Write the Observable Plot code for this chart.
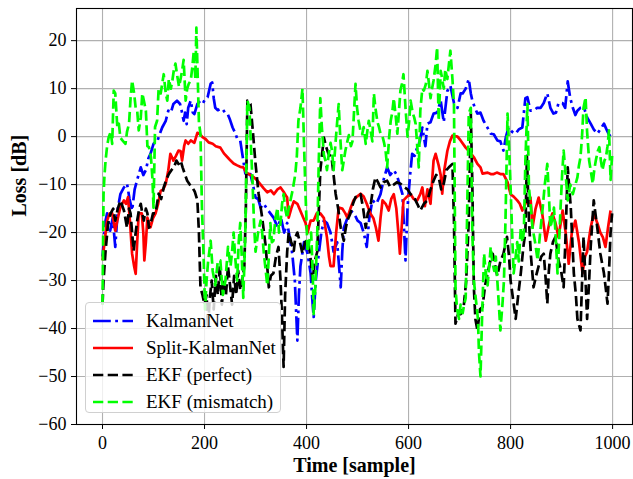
<!DOCTYPE html>
<html><head><meta charset="utf-8">
<script src="https://cdn.jsdelivr.net/npm/d3@7"></script>
<script src="https://cdn.jsdelivr.net/npm/@observablehq/plot@0.6"></script>
<style>
body{margin:0;background:#fff;}
#wrap{position:relative;width:633px;height:479px;font-family:"Liberation Serif","Times New Roman",serif;}
#legend{position:absolute;left:85px;top:302px;width:196px;height:111px;box-sizing:border-box;border:1px solid #d0d0d0;border-radius:4px;background:rgba(255,255,255,0.8);padding:4px 0 0 7px;}
.row{display:flex;align-items:center;height:27px;font-size:19px;color:#000;white-space:nowrap;}
.row svg{margin-right:13px;flex:none;}
</style></head><body><div id="wrap"><div id="legend"></div></div>
<script>
// [sample, loss dB]
const kalmanNet = [[0,-25],[5,-18],[9,-16],[15,-19.6],[20,-17],[25,-23],[30,-15],[35,-12],[42,-10.6],[48,-9.8],[53,-13],[58,-15.4],[63,-11],[68,-9],[75,-6.4],[80,-8],[85,-7],[90,-4.5],[94,-3.6],[100,-1.5],[108,-0.8],[112,0.5],[117,1.9],[124,3.3],[129,5.4],[134,5],[139,6.8],[146,7.5],[152,6.8],[156,5],[159,3.3],[162,5],[165,2.6],[168,6],[173,7.5],[177,5],[180,4.7],[186,6.8],[192,7.5],[197,7],[202,8],[206,8.2],[212,11],[215,11.3],[218,8],[221,6],[226,5.5],[231,5.8],[235,5.8],[240,5],[245,4.8],[250,3.5],[255,1.9],[260,0.8],[264,-0.4],[270,-0.8],[274,-3.6],[280,-7.7],[285,-7.8],[290,-7.8],[296,-10.6],[300,-12.7],[305,-13],[310,-14.8],[316,-14],[322,-15],[329,-16],[336,-17],[343,-18.9],[350,-17],[356,-20],[362,-18],[367,-21],[372,-24.4],[377,-30],[382,-42.5],[385,-33],[388,-27],[395,-22],[402,-24.4],[408,-28.5],[412,-35],[414,-37.6],[418,-30],[424,-24.4],[429,-20],[434,-17.5],[440,-18],[447,-20],[453,-24],[460,-22],[467,-31.4],[470,-24],[473,-19],[480,-17],[486,-15.4],[493,-16],[500,-17.5],[506,-18],[512,-20],[518,-23],[523,-17],[529,-13.3],[537,-14],[545,-12],[551,-9],[558,-6.4],[564,-8],[571,-7],[577,-8],[582,-9.8],[588,-12],[594,-25.8],[598,-14.7],[603,-8],[607,-3.6],[612,-4],[617,-2.2],[622,-1],[627,1.9],[633,-2],[637,2.7],[643,3],[649,4.8],[656,5],[663,7.5],[669,3],[676,9.5],[682,10.6],[689,7],[696,6],[702,9],[706,9],[712,10],[718,12],[722,9],[725,7.5],[730,6],[735,4.8],[741,5],[747,3.3],[754,2],[761,0.6],[767,0.5],[774,-0.8],[780,-1],[786,-2.9],[791,0],[796,1.9],[803,1],[810,0.6],[816,1.5],[823,1.9],[829,8],[833,8.2],[839,5.4],[845,5.4],[852,6],[859,6],[865,7],[872,9],[878,6],[884,4.8],[889,5],[894,7],[902,7],[907,6],[912,11.5],[917,8],[922,6],[927,4.5],[931,5.4],[937,6],[944,6],[950,4],[957,2.7],[963,1.5],[970,0.6],[976,1.5],[983,2.7],[988,1.5],[992,0.6],[996,0],[999,0.5]];

const splitKalmanNet = [[0,-25.8],[4,-22],[9,-17.5],[14,-16],[19,-16],[25,-19.6],[30,-17],[35,-14.7],[42,-13.3],[46,-14],[50,-12.6],[54,-18],[58,-24.4],[62,-27],[65,-28.6],[68,-22],[71,-16],[77,-16],[80,-20],[82,-25.8],[85,-22],[88,-16.9],[94,-18.9],[99,-17],[104,-16],[109,-14],[114,-11.3],[119,-11],[124,-9.8],[129,-7],[133,-3.6],[139,-5],[144,-4],[149,-2.9],[153,-3],[156,-5],[160,-2],[163,-0.8],[168,-1.5],[173,-0.8],[180,-1.3],[186,0.8],[191,0.5],[196,-0.1],[202,-0.5],[208,-1.2],[216,-1.5],[222,-2],[231,-2.3],[238,-3.5],[245,-4.3],[251,-5],[257,-5.6],[264,-6],[270,-6.3],[276,-6.4],[282,-7.5],[290,-8],[297,-8.5],[304,-9.2],[310,-10],[316,-10.8],[323,-11.6],[330,-11.2],[336,-12],[343,-11],[349,-10.6],[355,-11.5],[359,-12.2],[362,-12.7],[365,-16.9],[370,-15],[375,-13.5],[382,-14],[388,-15.5],[394,-17],[398,-18],[402,-20],[408,-17.5],[414,-17.5],[420,-16],[427,-16],[434,-17],[440,-21],[444,-25],[447,-27],[453,-27],[458,-20],[463,-14.8],[470,-15],[476,-16],[480,-16.9],[486,-15],[492,-13.3],[499,-12.5],[506,-11.9],[512,-12.5],[518,-14],[525,-16],[531,-17],[536,-19],[541,-21.7],[545,-17],[549,-13.3],[555,-14],[561,-15.4],[566,-13],[571,-12],[576,-15],[580,-20],[583,-24.4],[587,-18],[590,-13.3],[597,-12.5],[604,-12],[610,-13],[617,-13.3],[623,-12],[627,-10.6],[632,-14.5],[637,-11],[643,-14],[649,-5],[653,-3.6],[659,-6],[663,-8],[666,-11.9],[670,-7],[676,-3],[681,-1],[686,0.2],[696,0],[702,-0.8],[712,-2.3],[720,-3.2],[728,-4.3],[735,-5.7],[741,-6.4],[745,-7.7],[750,-7.6],[755,-7.5],[761,-7.8],[767,-7.8],[773,-7.5],[780,-7.8],[786,-7.8],[794,-9.5],[800,-12],[806,-12.5],[813,-13.3],[818,-14],[823,-15.4],[829,-14],[835,-13],[839,-12.7],[843,-18.9],[849,-15],[855,-12.7],[862,-16],[869,-21.7],[876,-18],[882,-16],[888,-18],[894,-21],[902,-15.4],[908,-20],[914,-26.5],[920,-20],[927,-17.5],[934,-22],[941,-28.5],[946,-25],[950,-24],[957,-19],[963,-16],[970,-18],[976,-20],[981,-21],[986,-23],[991,-19],[996,-15.4]];

const ekfPerfect = [[0,-35],[2,-30],[6,-23.8],[11,-18],[16,-16],[21,-15],[25,-17.5],[30,-15],[35,-13.3],[42,-15.4],[48,-19],[52,-15],[55,-16],[58,-20],[61,-23.8],[65,-20],[68,-17.5],[72,-15],[75,-14],[78,-16],[81,-17.5],[85,-15],[88,-16],[91,-19],[94,-18.3],[99,-16],[104,-16],[110,-11.9],[115,-13],[120,-10.6],[125,-9],[130,-7.8],[135,-7],[140,-6.4],[145,-5],[149,-5.7],[153,-5],[157,-6.4],[162,-8],[166,-9.2],[171,-10],[176,-10.6],[181,-11.5],[186,-13.3],[189,-20],[192,-31.4],[196,-33],[200,-35],[204,-33],[207,-40],[210,-34],[214,-30],[218,-36],[222,-29],[226,-33],[230,-27],[234,-35],[238,-30],[242,-33],[246,-27],[250,-31],[254,-35],[258,-29],[262,-33],[266,-28],[270,-32],[274,-30],[278,-27],[281,-15],[284,7.5],[290,6.8],[294,2],[300,-5.7],[306,-11.9],[313,-16.9],[320,-23],[326,-31.4],[330,-29],[335,-28.5],[340,-25],[345,-23],[349,-30],[352,-38],[355,-48],[358,-33],[362,-24],[365,-20],[370,-22],[375,-23.8],[378,-21],[382,-20],[387,-22],[392,-24.4],[397,-22],[402,-21.6],[407,-24.4],[412,-30],[416,-26],[421,-24],[427,-7],[434,-0.2],[438,-2],[443,-3.6],[449,-4.3],[453,-8],[457,-11.9],[462,-15],[467,-19],[473,-21.7],[477,-19],[480,-17.5],[486,-16],[491,-14],[496,-12.6],[501,-12.5],[506,-12],[511,-15],[516,-19],[520,-16],[525,-14.8],[530,-11],[535,-8.5],[540,-9.5],[545,-10.6],[551,-9.5],[558,-9.2],[564,-10.5],[571,-10],[577,-9.5],[584,-9.8],[591,-10.5],[598,-11],[604,-12],[610,-12.5],[617,-14],[623,-15.4],[630,-14],[637,-13.3],[643,-11],[649,-9.2],[654,-8],[659,-8.5],[664,-11],[669,-9.8],[674,-7],[679,-6.4],[686,-5.7],[689,-17.5],[692,-39],[697,-37],[702,-37],[708,-35.5],[713,-30],[718,-17.5],[722,4.8],[725,-10],[728,-31.4],[731,-38],[735,-40.4],[740,-36],[745,-35.5],[750,-31],[755,-28.5],[760,-26],[765,-24.4],[770,-27],[774,-29],[780,-26],[786,-24.4],[793,-20.9],[797,-25],[800,-30],[805,-34],[810,-38],[815,-33],[820,-28.5],[825,-23],[829,-20],[832,-4],[836,-17.5],[840,-25],[845,-31.4],[850,-29],[855,-27],[860,-25],[865,-24.4],[869,-30],[872,-34.8],[875,-28],[878,-24.4],[883,-22],[888,-20.9],[894,-25.8],[899,-28],[904,-31.4],[908,-20],[912,-6.4],[918,-14.8],[924,-28.5],[928,-33],[931,-38],[937,-40.4],[943,-20.9],[947,-30],[950,-38],[954,-30],[957,-23],[963,-13.3],[970,-19],[976,-24.4],[983,-28.5],[987,-32],[990,-34.8],[993,-28],[996,-20],[999,-16]];

const ekfMismatch = [[0,-35],[2,-12],[4,-7.8],[6,-5],[9,-2],[12,-0.2],[16,1],[19,-1.5],[22,9.6],[25,9],[29,2],[32,2.7],[35,-0.2],[39,-0.8],[45,-1.5],[48,1],[52,2.7],[55,8],[58,11.7],[62,9],[65,6],[68,5.4],[71,1.3],[75,4],[78,9],[82,7],[85,5.4],[88,-2],[91,-2.2],[95,-4.3],[98,-9],[100,-14.8],[103,2],[107,3.3],[110,10],[114,9],[117,11],[120,13],[124,9],[127,7.5],[130,12],[134,10],[137,11.7],[140,14],[143,15.2],[146,13],[150,10.4],[153,12],[156,13.7],[159,16],[163,7.5],[166,10],[169,11],[173,11.7],[176,14.4],[179,17.9],[182,12],[184,22.7],[186,15],[189,3],[192,0.6],[195,-15],[198,-24.4],[201,-36],[204,-30],[207,-26],[212,-21.7],[216,-28],[221,-31],[226,-26],[231,-25.8],[236,-33],[241,-30],[246,-23],[251,-27],[254,-24],[257,-20],[260,-25],[264,-30],[267,-22],[270,-18],[273,-25],[276,-33.6],[280,-20],[284,7.5],[288,6],[291,-2],[294,-9.2],[297,-18],[300,-24],[305,-20],[310,-17.5],[313,-20],[316,-24],[320,-28],[323,-31],[326,-25],[329,-18],[332,-22],[335,-21.7],[339,-17],[343,-14.8],[346,-20],[349,-18],[352,-14],[355,-12],[358,-15],[362,-17],[365,-15],[369,-13],[373,-11],[378,-7.8],[381,-4],[384,3.3],[388,6],[392,10],[395,-1.5],[398,-12],[402,-24],[405,-22],[409,-20],[412,-28],[414,-37],[417,-32],[421,-20],[424,-5],[427,8],[430,2],[434,-3.8],[437,-5],[440,-7],[443,-4],[447,-1.3],[450,-3],[453,-7],[457,-1],[460,3],[463,6.8],[466,0],[470,-7],[473,-5],[476,-3],[480,-1],[483,0.3],[487,-2],[490,-1],[493,5],[496,11],[499,6],[502,3.3],[506,1],[509,0.5],[512,2],[516,-1.5],[519,1],[522,3.3],[526,1],[529,-1],[532,9],[535,6],[539,3],[542,2],[545,0.6],[549,0],[552,-1.3],[555,-3],[558,-6.4],[562,0],[565,3.3],[568,5],[571,8],[575,4],[578,0.6],[581,5],[584,9.6],[587,11],[590,13],[594,6],[598,0],[601,3],[604,7.5],[608,5],[611,4],[614,2.6],[617,-2],[620,-6.4],[623,5.4],[627,10],[630,9.6],[634,11],[637,13.7],[640,11],[643,8],[646,10],[649,11.7],[653,15],[656,18.6],[659,3.3],[663,13.7],[666,12],[669,10],[672,14],[676,12],[679,15],[682,17.9],[686,12],[689,6.8],[692,-31.4],[695,-36],[699,-38],[702,-35],[706,-36.8],[709,-35],[712,-33.6],[715,-15],[718,4.8],[722,6],[725,-20],[728,-30],[732,-34],[736,-38],[738,-45],[741,-50],[744,-38],[748,-24.4],[751,-28],[755,-31],[758,-27],[761,-23],[764,-26],[768,-28],[771,-25],[774,-30],[777,-35],[780,-40.4],[784,-35],[787,-30],[790,-17.5],[794,4.8],[797,-2],[800,-10.6],[803,-20],[806,-28.5],[810,-25],[813,-22],[816,-26],[820,-19],[823,-22],[826,-20],[829,-5],[833,6.8],[836,-10.6],[840,-15],[843,-19],[848,-22],[853,-25.8],[858,-20],[863,-14.8],[867,-10],[872,-5.7],[875,-12],[878,-19],[882,-17],[885,-14.8],[888,-20],[892,-28.5],[895,-22],[898,-14.8],[901,-8],[904,-2.9],[908,-8],[912,-13.3],[917,-10],[922,-12],[927,-10],[931,-8.5],[934,-6],[937,-4.3],[940,0],[943,6],[947,8.2],[950,1],[954,-5],[957,-7],[961,-9.8],[964,-7],[967,-5],[971,-3],[974,-2.2],[977,-5],[980,-7],[984,-5],[987,-4.3],[990,-2],[993,1.3],[996,-9],[999,-4]];

const xTicks = [0, 200, 400, 600, 800, 1000];
const yTicks = [-60, -50, -40, -30, -20, -10, 0, 10, 20];
const seriesNames = ["KalmanNet", "Split-KalmanNet", "EKF (perfect)", "EKF (mismatch)"];
const seriesColors = ["#0000ff", "#ff0000", "#000000", "#00ff00"];
const seriesDash = ["17.8,4.4,2.8,4.4", null, "10.3,4.4", "10.3,4.4"];
const seriesData = [kalmanNet, splitKalmanNet, ekfPerfect, ekfMismatch];

const fmt = d => d < 0 ? "\u2212" + Math.abs(d) : String(d);
const LW = 2.7;

const lineMarks = seriesData.map((data, i) => Plot.line(data, {
  x: d => d[0], y: d => d[1],
  stroke: seriesColors[i], strokeWidth: LW,
  strokeDasharray: seriesDash[i] || undefined,
  strokeLinejoin: "round", strokeLinecap: "butt"
}));

const chart = Plot.plot({
  width: 633, height: 479,
  marginLeft: 76, marginRight: 1, marginTop: 8, marginBottom: 55,
  style: {fontFamily: '"Liberation Serif","Times New Roman",serif', fontSize: "18px", background: "white", color: "black"},
  x: {domain: [-51, 1039]},
  y: {domain: [-60, 26.7]},
  marks: [
    Plot.gridX(xTicks, {stroke: "#b0b0b0", strokeOpacity: 1, strokeWidth: 1.1}),
    Plot.gridY(yTicks, {stroke: "#b0b0b0", strokeOpacity: 1, strokeWidth: 1.1}),
    ...lineMarks,
    Plot.frame({stroke: "black", strokeWidth: 1.1}),
    Plot.axisX(xTicks, {tickSize: 5, tickPadding: 7, tickFormat: fmt, label: null, fontSize: 18}),
    Plot.axisY(yTicks, {tickSize: 5, tickPadding: 5, tickFormat: fmt, label: null, fontSize: 18}),
    Plot.text(["Time [sample]"], {text: d => d, frameAnchor: "bottom", dy: 47, fontWeight: "bold", fontSize: 20}),
    Plot.text(["Loss [dB]"], {text: d => d, frameAnchor: "left", dx: -57, rotate: -90, fontWeight: "bold", fontSize: 20})
  ]
});
const wrap = document.getElementById("wrap");
wrap.insertBefore(chart, wrap.firstChild);

const legend = document.getElementById("legend");
seriesNames.forEach((name, i) => {
  const row = document.createElement("div");
  row.className = "row";
  const dash = seriesDash[i] ? ` stroke-dasharray="${seriesDash[i]}"` : "";
  row.innerHTML = `<svg width="40" height="10"><line x1="0" x2="40" y1="5" y2="5" stroke="${seriesColors[i]}" stroke-width="${LW}"${dash}/></svg><span>${name}</span>`;
  legend.appendChild(row);
});
</script>
</body></html>
